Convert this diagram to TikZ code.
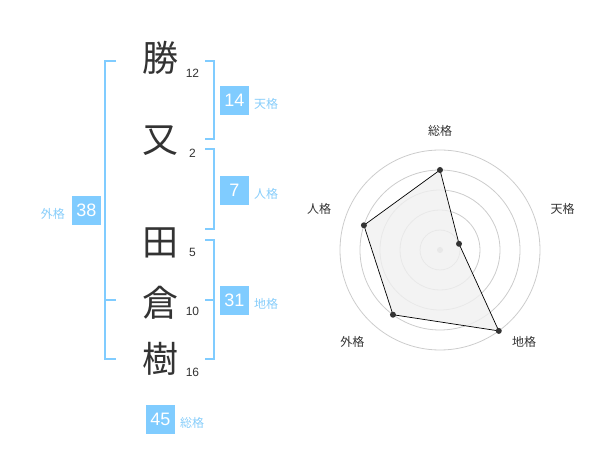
\documentclass[tikz,border=0pt]{standalone}
\usepackage{fontspec}
\setmainfont{Liberation Sans}
\newfontfamily\jpfont{Noto Sans CJK JP}
\usepackage{tikz}
\definecolor{kakublue}{RGB}{128,204,255}
\definecolor{kakutext}{RGB}{135,205,250}
\definecolor{inkgray}{RGB}{51,51,51}
\definecolor{ringgray}{RGB}{204,204,204}
\definecolor{areagray}{RGB}{240,240,240}
\definecolor{hubgray}{RGB}{200,200,200}

\begin{document}
\begin{tikzpicture}[x=1pt,y=-1pt]
\tikzstyle{every node}+=[inner sep=0pt]
\tikzstyle{kanji}=[font=\jpfont\fontsize{36}{36}\selectfont, text=inkgray]
\tikzstyle{strokes}=[font=\fontsize{12}{12}\selectfont, text=inkgray]
\tikzstyle{kakubox}=[fill=kakublue, minimum size=29pt, text=white, font=\fontsize{18}{18}\selectfont]
\tikzstyle{kakuname}=[font=\jpfont\fontsize{12}{12}\selectfont, text=kakutext]
\tikzstyle{bracket}=[kakublue, line width=2pt]
\tikzstyle{axisname}=[font=\jpfont\fontsize{12}{12}\selectfont, text=inkgray]
\tikzstyle{ring}=[ringgray, line width=0.8pt]
\tikzstyle{mark dot}=[fill=inkgray]
\useasboundingbox (0,0) rectangle (600,470);
\node [kanji] (c1) at (160,57.5) {勝};
\node [kanji] (c2) at (160,141) {又};
\node [kanji] (c3) at (160,243) {田};
\node [kanji] (c4) at (160,303) {倉};
\node [kanji] (c5) at (160,359) {樹};
\node [strokes] (s1) at (192.5,73.5) {12};
\node [strokes] (s2) at (192.5,153) {2};
\node [strokes] (s3) at (192.5,252.7) {5};
\node [strokes] (s4) at (192.5,311.7) {10};
\node [strokes] (s5) at (192.5,372.7) {16};
\draw [bracket] (205,60.7) -- (214.3,60.7) -- (214.3,139.3) -- (205,139.3);
\draw [bracket] (205,149.3) -- (214.3,149.3) -- (214.3,229.3) -- (205,229.3);
\draw [bracket] (205,240) -- (214.3,240) -- (214.3,359.3) -- (205,359.3);
\draw [bracket] (205,300) -- (214.3,300);
\draw [bracket] (116,60.7) -- (105,60.7) -- (105,359.3) -- (116,359.3);
\draw [bracket] (105,300) -- (116,300);
\node [kakubox] (ten) at (234.5,100.5) {14};
\node [kakuname, anchor=west] (tenname) at (254,104) {天格};
\node [kakubox] (jin) at (234.5,190.3) {7};
\node [kakuname, anchor=west] (jinname) at (254,194) {人格};
\node [kakubox] (chi) at (234.5,300.3) {31};
\node [kakuname, anchor=west] (chiname) at (254,304) {地格};
\node [kakubox] (gai) at (86.5,210.5) {38};
\node [kakuname, anchor=east] (gainame) at (65,214) {外格};
\node [kakubox] (sou) at (160.5,419) {45};
\node [kakuname, anchor=west] (souname) at (180,423) {総格};
\begin{scope}[shift={(440,250)}]
\foreach \r in {20,40,60,80,100}
  \draw [ring] (0,0) circle (\r pt);
\fill [hubgray] (0,0) circle (3pt);
\coordinate (v1) at (90:80pt);
\coordinate (v2) at (18:20pt);
\coordinate (v3) at (-54:100pt);
\coordinate (v4) at (-126:80pt);
\coordinate (v5) at (162:80pt);
\draw [black, line width=0.7pt, fill=areagray, fill opacity=0.8] (v1) -- (v2) -- (v3) -- (v4) -- (v5) -- cycle;
\foreach \v in {v1,v2,v3,v4,v5}
  \fill [mark dot] (\v) circle (3pt);
\node [axisname] (a1) at (0,-119.3) {総格};
\node [axisname] (a2) at (122.7,-41.3) {天格};
\node [axisname] (a3) at (84,92.3) {地格};
\node [axisname] (a4) at (-87.7,92.3) {外格};
\node [axisname] (a5) at (-121,-41.3) {人格};
\end{scope}
\end{tikzpicture}
\end{document}
